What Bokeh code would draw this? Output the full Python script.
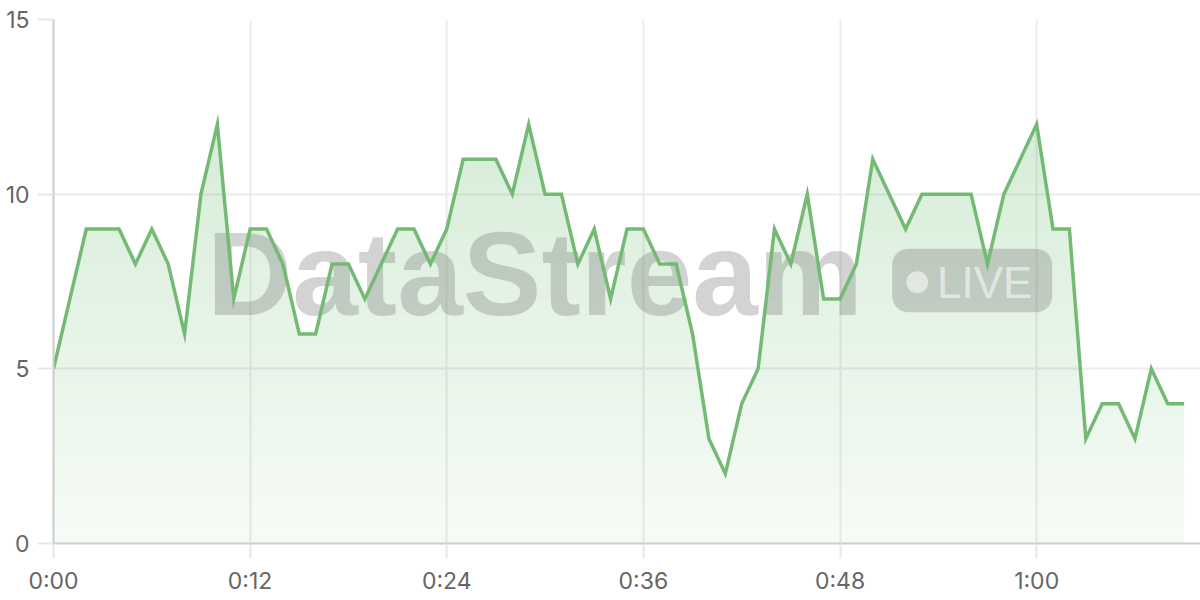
import numpy as np
from bokeh.plotting import figure
from bokeh.models import FixedTicker, Range1d
from bokeh.core.properties import value
from bokeh.embed import file_html
from bokeh.resources import INLINE

# ---------------- data ----------------
minutes = list(range(70))
counts = [5, 7, 9, 9, 9, 8, 9, 8, 6, 10,
          12, 7, 9, 9, 8, 6, 6, 8, 8, 7,
          8, 9, 9, 8, 9, 11, 11, 11, 10, 12,
          10, 10, 8, 9, 7, 9, 9, 8, 8, 6,
          3, 2, 4, 5, 9, 8, 10, 7, 7, 8,
          11, 10, 9, 10, 10, 10, 10, 8, 10, 11,
          12, 9, 9, 3, 4, 4, 3, 5, 4, 4]
x_tick_values = [0, 12, 24, 36, 48, 60]
x_tick_labels = ["0:00", "0:12", "0:24", "0:36", "0:48", "1:00"]
y_tick_values = [0, 5, 10, 15]
watermark_text = "DataStream"
badge_text = "LIVE"

# ---------------- layout ----------------
W, H = 1200, 600
BL, BR, BT, BB = 53, 0, 19, 57
X_END = 70.0
Y_END = 15
frame_w = W - BL - BR
frame_h = H - BT - BB
sx = frame_w / X_END
sy = frame_h / Y_END


def dx(px_):
    return (px_ - BL) / sx


def dy(py_):
    return (H - BB - py_) / sy


GREEN = "#66bb6a"
LINE = "#74ba75"
TICK_FONT = "Inter"

p = figure(width=W, height=H, output_backend="svg", toolbar_location=None,
           x_range=Range1d(0, X_END), y_range=Range1d(0, Y_END),
           min_border_left=BL, min_border_right=BR, min_border_top=BT,
           min_border_bottom=BB)
p.outline_line_color = None
p.background_fill_color = "white"
p.border_fill_color = "white"

# ---------------- gradient area ----------------
xv = np.array(minutes, dtype=float)
yv = np.array(counts, dtype=float)
top = yv.max()
nb = 48
levels = np.linspace(0, top, nb + 1)
rx, ry = [xv[0]], [yv[0]]
for i in range(len(xv) - 1):
    xa, ya, xb, yb = xv[i], yv[i], xv[i + 1], yv[i + 1]
    ts = []
    for L in levels:
        if (ya - L) * (yb - L) < 0:
            ts.append((L - ya) / (yb - ya))
    for t in sorted(ts):
        rx.append(xa + t * (xb - xa))
        ry.append(ya + t * (yb - ya))
    rx.append(xb)
    ry.append(yb)
rx = np.array(rx)
ry = np.array(ry)
for k in range(nb):
    lo, hi = levels[k], levels[k + 1]
    mid = 0.5 * (lo + hi)
    a = 0.055 + 0.215 * (mid / top)
    p.varea(x=rx, y1=np.full_like(rx, lo), y2=np.clip(ry, lo, hi),
            fill_color=GREEN, fill_alpha=a)

# ---------------- watermark ----------------
WM_COLOR = "#767676"
WM_ALPHA = 0.32
p.text(x=[dx(206.5)], y=[dy(313 - 40)], text=[watermark_text],
       text_font=value("Liberation Sans"), text_font_style="bold",
       text_font_size="118px", text_align="left", text_baseline="alphabetic",
       text_color=WM_COLOR, text_alpha=WM_ALPHA)

# pill with rounded corners (pixel radius converted to data units)
pl, pr = dx(891.7), dx(1051.7)
pt, pb = dy(248.3), dy(311.7)
r = 16.0
rxu, ryu = r / sx, r / sy
th = np.linspace(0, np.pi / 2, 12)
px, py = [], []
corners = [(pr - rxu, pt - ryu, 0.0), (pl + rxu, pt - ryu, np.pi / 2),
           (pl + rxu, pb + ryu, np.pi), (pr - rxu, pb + ryu, 1.5 * np.pi)]
for cx, cy, a0 in corners:
    px.extend(cx + rxu * np.cos(a0 + th))
    py.extend(cy + ryu * np.sin(a0 + th))
p.patch(px, py, fill_color=WM_COLOR, fill_alpha=WM_ALPHA, line_color=None)

p.scatter(x=[dx(916.7)], y=[dy(281.7)], size=22,
          marker="circle", fill_color="white", fill_alpha=0.55, line_color=None)
p.text(x=[dx(936.5)], y=[dy(295 - 13)], text=[badge_text],
       text_font=value("Liberation Sans"), text_font_size="44px",
       text_align="left", text_baseline="alphabetic",
       text_color="white", text_alpha=0.55)

# ---------------- line ----------------
p.line(minutes, counts, line_color=LINE, line_width=3.5, line_join="miter")

# ---------------- axes & grid ----------------
p.xaxis.ticker = FixedTicker(ticks=x_tick_values)
p.xaxis.major_label_overrides = {v: s for v, s in zip(x_tick_values, x_tick_labels)}
p.yaxis.ticker = FixedTicker(ticks=y_tick_values)

for ax in (p.xaxis[0], p.yaxis[0]):
    ax.axis_line_color = "#cccccc"
    ax.axis_line_width = 2
    ax.major_tick_line_color = "#e8e8e8"
    ax.major_tick_line_width = 2
    ax.major_tick_in = 0
    ax.major_tick_out = 15
    ax.minor_tick_line_color = None
    ax.major_label_text_font = TICK_FONT
    ax.major_label_text_font_size = "23px"
    ax.major_label_text_color = "#666666"
p.xaxis.major_label_standoff = 8
p.yaxis.major_label_standoff = 8
p.yaxis.major_tick_out = 16

p.xgrid.grid_line_color = "#ebebeb"
p.xgrid.grid_line_width = 2
p.ygrid.grid_line_color = "#ebebeb"
p.ygrid.grid_line_width = 2

open("out.html", "w").write(file_html(p, INLINE))
